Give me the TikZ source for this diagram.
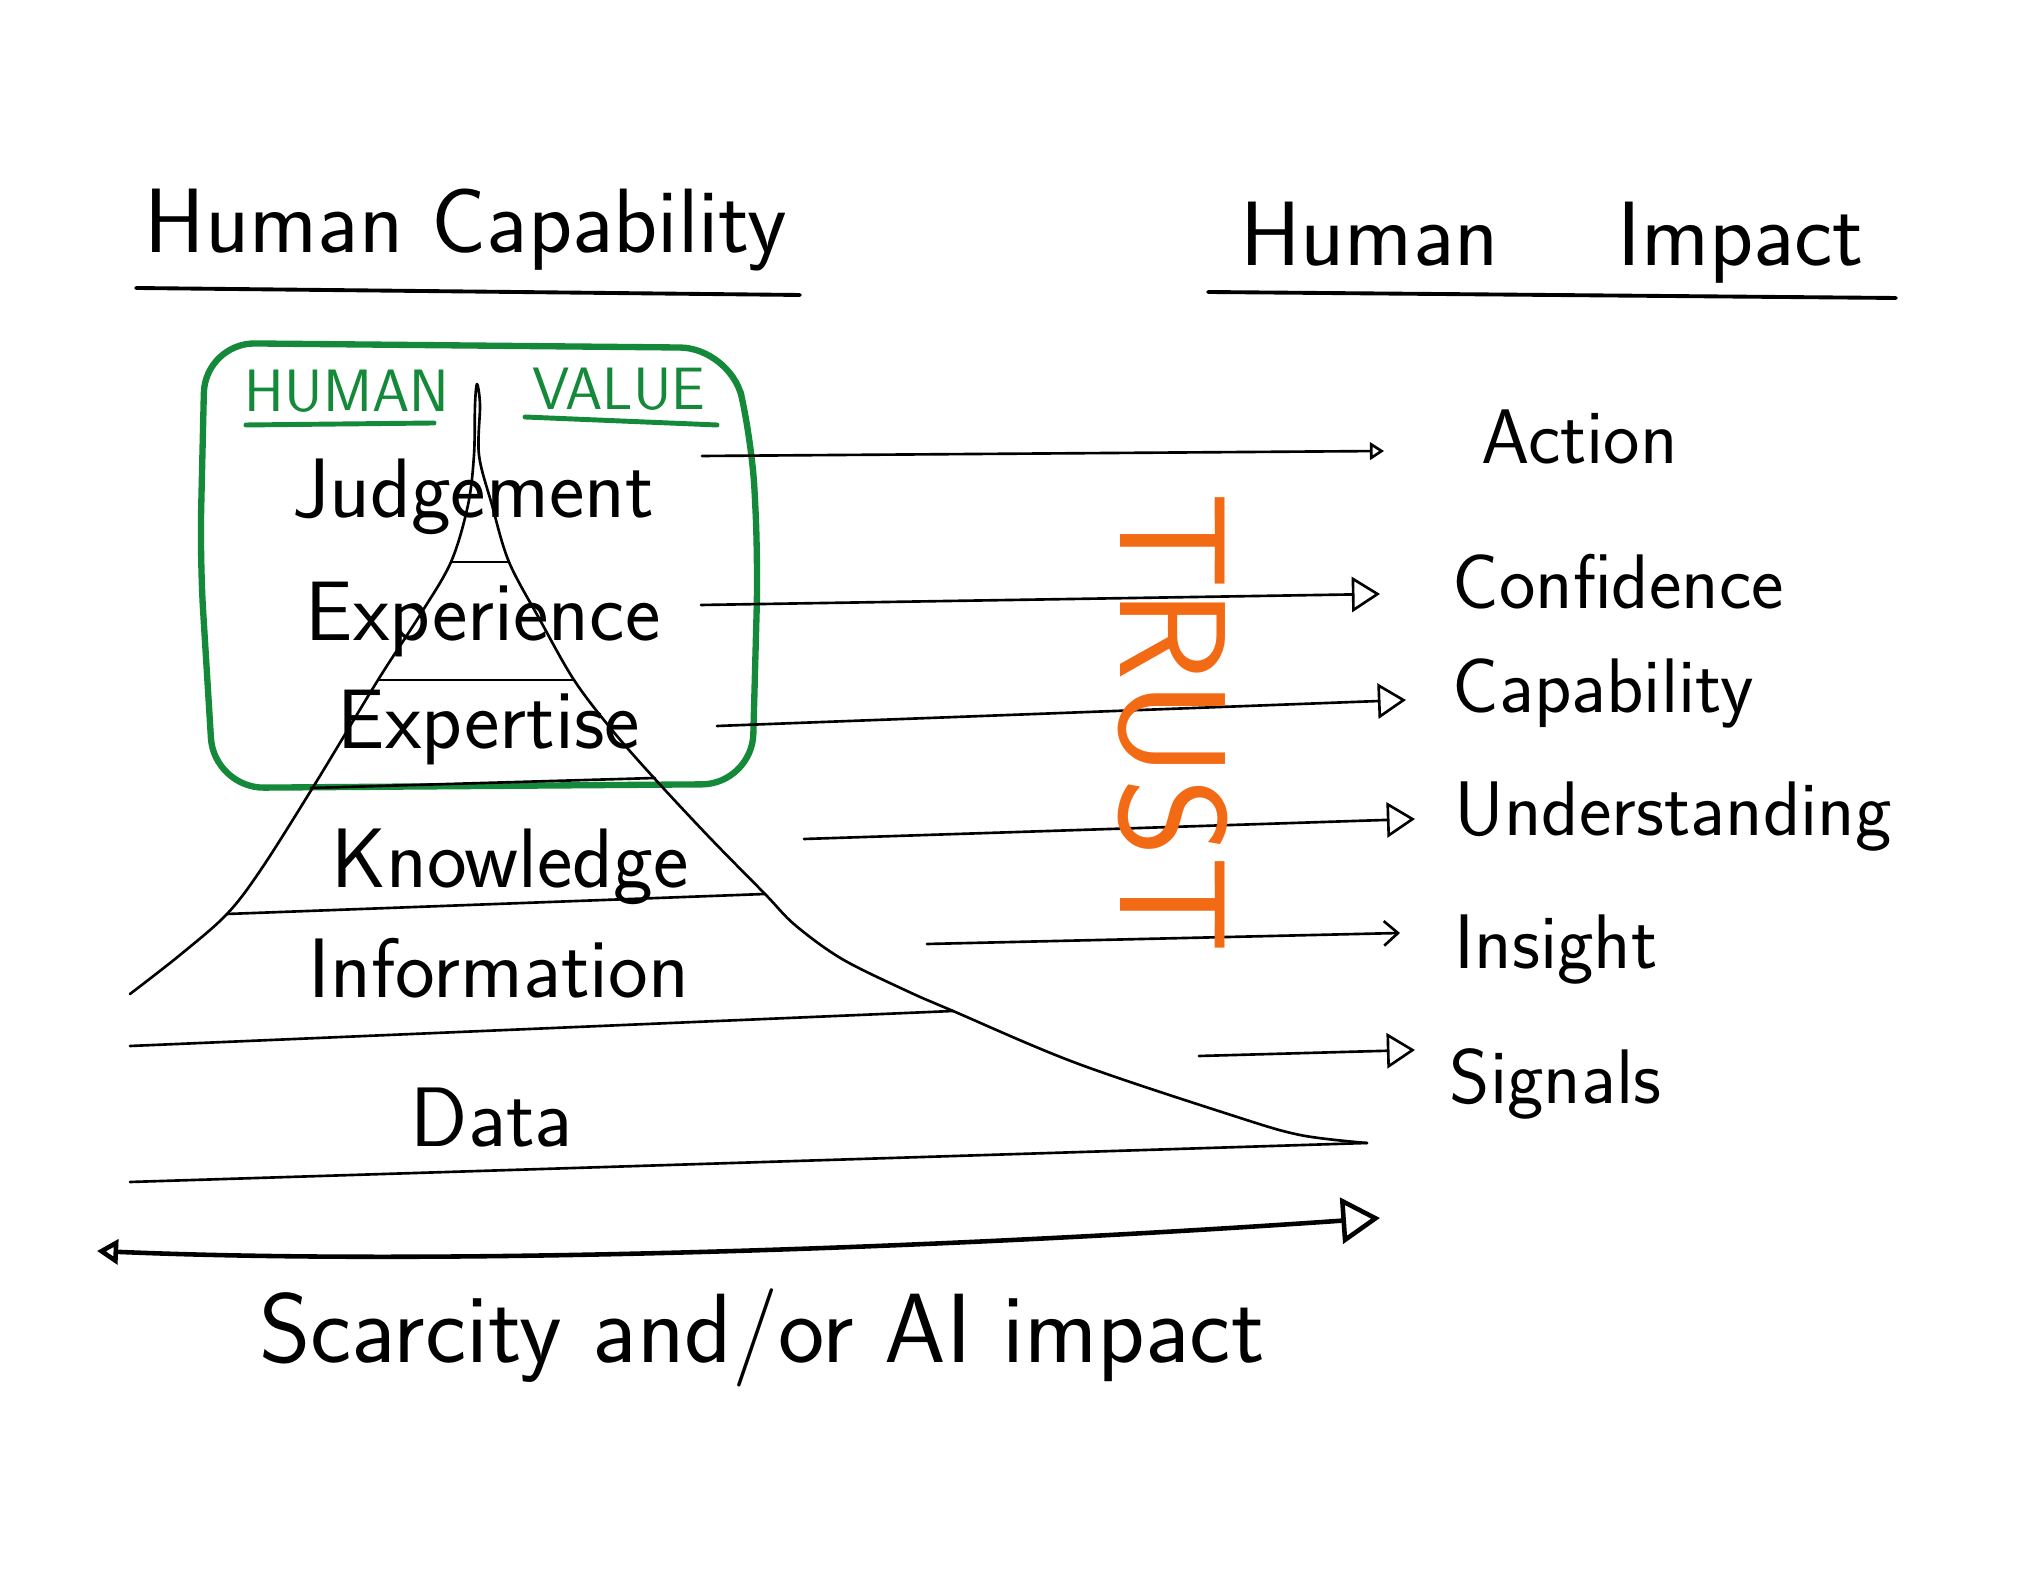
\documentclass[tikz,border=0pt]{standalone}
\usetikzlibrary{arrows.meta}
\definecolor{penGreen}{HTML}{15893A}
\definecolor{penOrange}{HTML}{F26A14}
\newcommand*{\HandFont}[1]{\fontsize{#1}{#1}\selectfont\sffamily}
\begin{document}
\begin{tikzpicture}[x=0.01cm, y=-0.01cm,
    pen/.style={line width=0.75pt, line cap=round, line join=round},
    title/.style={font=\HandFont{26pt}, inner sep=0pt, anchor=base},
    level/.style={font=\HandFont{24pt}, inner sep=0pt, anchor=base},
    impact/.style={font=\HandFont{22pt}, inner sep=0pt, anchor=base west},
    greentag/.style={font=\HandFont{17pt}, text=penGreen, inner sep=0pt, anchor=base},
    bigtip/.style={-{Triangle[open, length=8pt, width=10pt]}},
    smalltip/.style={-{Triangle[open, length=4pt, width=5pt]}},
    barbtip/.style={-{Straight Barb[length=4pt, width=7pt]}}]
  \fill[white] (0,0) rectangle (2032,1586);
  \useasboundingbox (0,0) rectangle (2032,1586);

  % headings
  \node[title] (capTitle) at (466,253) {Human Capability};
  \node[title] (impTitle) at (1552,266) {Human\hspace{1.3em}Impact};
  \draw[pen, line width=1.1pt] (136,288) -- (800,295);
  \draw[pen, line width=1.1pt] (1208,292) -- (1896,298);

  % human value box
  \draw[penGreen, line width=1.8pt, rounded corners=0.5cm]
    (205,343) -- (730,348) -- (752,440) -- (758,560) -- (752,784) -- (214,788) -- (200,560) -- cycle;
  \node[greentag] (human) at (347,412) {HUMAN};
  \node[greentag] (value) at (619,410) {VALUE};
  \draw[penGreen, line width=1.4pt, line cap=round] (246,425) -- (434,423);
  \draw[penGreen, line width=1.4pt, line cap=round] (525,417) -- (717,425);

  % pyramid outline
  \draw[pen] plot[smooth, tension=0.55] coordinates {
    (130,994) (180,955) (227,914) (262,868) (315,784) (378,680) (420,615)
    (451,562) (468,505) (474,455) (475,405) (477,384) (480,405) (479,455)
    (492,505) (509,562) (540,620) (574,680) (612,730) (654,778) (710,838)
    (765,894) (795,925) (842,959) (907,991) (953,1011) (1076,1063)
    (1231,1115) (1300,1135) (1367,1143)};

  % layers
  \draw[pen] (451,562) -- (509,562);
  \draw[pen] (378,680) -- (574,680);
  \draw[pen] (311,788) -- (655,778);
  \draw[pen] (227,914) -- (765,894);
  \draw[pen] (130,1046) -- (953,1011);
  \draw[pen] (130,1182) -- (1367,1143);

  \foreach \nm/\txt/\xx/\yy in {jud/Judgement/473/518, exr/Experience/483/641,
      exp/Expertise/489/749, kno/Knowledge/510/888, inf/Information/499/998,
      dat/Data/492/1147}
    \node[level] (\nm) at (\xx,\yy) {\txt};

  % arrows to impact
  \foreach \nm/\txt/\sx/\sy/\ex/\ey/\lx/\ly/\tip in {
      act/Action/702/456/1384/451/1481/464/smalltip,
      con/Confidence/701/605/1380/594/1452/609/bigtip,
      cap/Capability/717/726/1406/700/1452/713/bigtip,
      und/Understanding/804/839/1415/819/1454/836/bigtip,
      ins/Insight/927/944/1400/933/1454/969/barbtip,
      sig/Signals/1199/1056/1415/1050/1449/1104/bigtip}
  {
    \coordinate (s\nm) at (\sx,\sy);
    \coordinate (e\nm) at (\ex,\ey);
    \node[impact] (l\nm) at (\lx,\ly) {\txt};
    \draw[pen, \tip] (s\nm) -- (e\nm);
  }

  \node[font=\HandFont{43pt}, text=penOrange, rotate=-90, inner sep=0pt]
    (trust) at (1173,723) {TRUST};

  % bottom axis
  \coordinate (axL) at (97,1251);
  \coordinate (axR) at (1380,1218);
  \draw[pen, line width=1.3pt, {Triangle[open, length=6pt, width=7pt]}-{Triangle[open, length=11pt, width=13pt]}]
    (axL) .. controls (450,1266) and (950,1248) .. (axR);
  \node[font=\HandFont{28pt}, inner sep=0pt, anchor=base] (axis) at (762,1363)
    {Scarcity and/or AI impact};
\end{tikzpicture}
\end{document}
